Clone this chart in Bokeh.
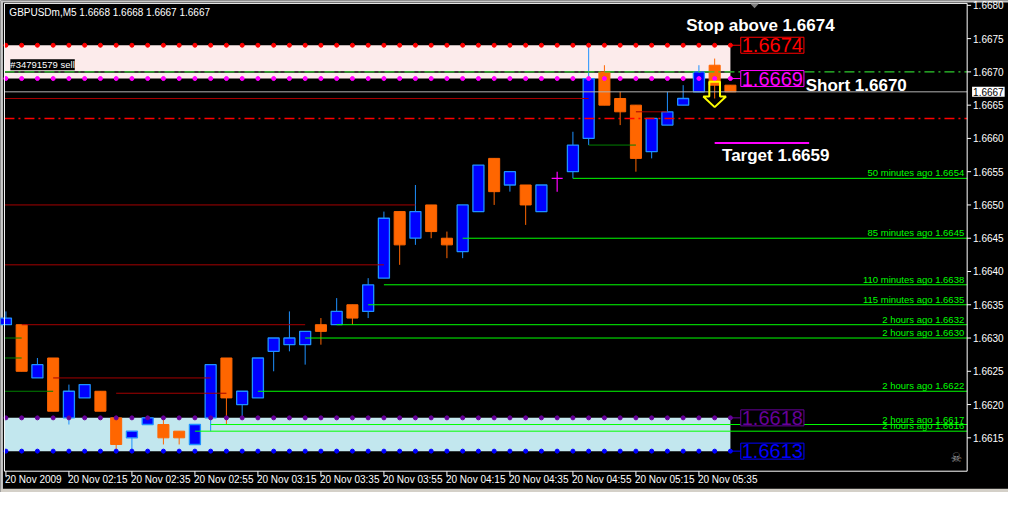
from bokeh.plotting import figure
from bokeh.models import Range1d, Label
from bokeh.core.properties import value
from bokeh.embed import file_html
from bokeh.resources import INLINE

# ---------------- data ----------------
chart_title = "GBPUSDm,M5  1.6668 1.6668 1.6667 1.6667"
bar_index = list(range(47))
opens = [1.6632, 1.6632, 1.6624, 1.6627, 1.6618, 1.6621, 1.6622, 1.6618, 1.6615, 1.6617,
         1.6617, 1.6616, 1.6614, 1.6618, 1.6627, 1.6620, 1.6621, 1.6628, 1.6629, 1.6629,
         1.6632, 1.6632, 1.6635, 1.6634, 1.6639, 1.6649, 1.6645, 1.6650, 1.6645, 1.6643,
         1.6649, 1.6657, 1.6653, 1.6653, 1.6649, 1.6654, 1.6655, 1.6660, 1.6670, 1.6666,
         1.6665, 1.6658, 1.6662, 1.6665, 1.6667, 1.6671, 1.6668]
highs = [1.6634, 1.6632, 1.6627, 1.6627, 1.6623, 1.6623, 1.6622, 1.6618, 1.6616, 1.6618,
         1.6618, 1.6616, 1.6617, 1.6626, 1.6627, 1.6622, 1.6627, 1.6630, 1.6634, 1.6631,
         1.6633, 1.6636, 1.6635, 1.6639, 1.6649, 1.6649, 1.6653, 1.6650, 1.6646, 1.6650,
         1.6656, 1.6657, 1.6655, 1.6653, 1.6653, 1.6655, 1.6661, 1.6674, 1.6671, 1.6667,
         1.6665, 1.6663, 1.6667, 1.6668, 1.6671, 1.6672, 1.6668]
lows = [1.6632, 1.6625, 1.6624, 1.6619, 1.6617, 1.6621, 1.6619, 1.6613, 1.6613, 1.6617,
        1.6614, 1.6614, 1.6614, 1.6616, 1.6617, 1.6618, 1.6621, 1.6625, 1.6628, 1.6626,
        1.6629, 1.6632, 1.6632, 1.6633, 1.6639, 1.6641, 1.6644, 1.6645, 1.6642, 1.6642,
        1.6649, 1.6650, 1.6652, 1.6647, 1.6649, 1.6652, 1.6654, 1.6659, 1.6665, 1.6662,
        1.6655, 1.6657, 1.6662, 1.6665, 1.6667, 1.6666, 1.6667]
closes = [1.6633, 1.6625, 1.6626, 1.6619, 1.6622, 1.6623, 1.6619, 1.6614, 1.6616, 1.6618,
          1.6615, 1.6615, 1.6617, 1.6626, 1.6621, 1.6622, 1.6627, 1.6630, 1.6630, 1.6631,
          1.6631, 1.6634, 1.6633, 1.6638, 1.6648, 1.6644, 1.6649, 1.6646, 1.6644, 1.6650,
          1.6656, 1.6652, 1.6655, 1.6650, 1.6653, 1.6654, 1.6659, 1.6669, 1.6665, 1.6664,
          1.6657, 1.6663, 1.6664, 1.6666, 1.6670, 1.6668, 1.6667]

time_tick_bars = [0, 4, 8, 12, 16, 20, 24, 28, 32, 36, 40, 44]
time_tick_labels = ["20 Nov 2009", "20 Nov 02:15", "20 Nov 02:35", "20 Nov 02:55",
                    "20 Nov 03:15", "20 Nov 03:35", "20 Nov 03:55", "20 Nov 04:15",
                    "20 Nov 04:35", "20 Nov 04:55", "20 Nov 05:15", "20 Nov 05:35"]
price_ticks = [1.6615, 1.6620, 1.6625, 1.6630, 1.6635, 1.6640, 1.6645, 1.6650,
               1.6655, 1.6660, 1.6665, 1.6670, 1.6675, 1.6680]
price_tick_labels = ["1.6615", "1.6620", "1.6625", "1.6630", "1.6635", "1.6640", "1.6645",
                     "1.6650", "1.6655", "1.6660", "1.6665", "1.6670", "1.6675", "1.6680"]

# "x minutes ago" levels (bright green)
ago_start_bars = [36, 29, 24, 23, 21, 19, 16, 13, 12]
ago_prices = [1.6654, 1.6645, 1.6638, 1.6635, 1.6632, 1.6630, 1.6622, 1.6617, 1.6616]
ago_labels = ["50 minutes ago 1.6654", "85 minutes ago 1.6645", "110 minutes ago 1.6638",
              "115 minutes ago 1.6635", "2 hours ago 1.6632", "2 hours ago 1.6630",
              "2 hours ago 1.6622", "2 hours ago 1.6617", "2 hours ago 1.6616"]

# dark red level segments
maroon_prices = [1.6666, 1.6664, 1.6650, 1.6641, 1.6632, 1.6624, 1.66217]
maroon_start = [-1, 40, -1, -1, 1, 3, 7]
maroon_end = [37, 42, 26, 24, 19, 13, 14]

# dark green level segments
dkgreen_prices = [1.6630, 1.6627, 1.6622, 1.6659]
dkgreen_start = [-1, -1, -1, 37]
dkgreen_end = [1, 1, 3, 40]

# zones (top, bottom)
sell_zone = (1.6674, 1.6669)
buy_zone = (1.6618, 1.6613)
zone_last_bar = 46

bid_price = 1.6667
short_price = 1.6670
red_level = 1.6663
target_price = 1.66593
target_bars = (45, 51)
arrow_bar = 45
arrow_tip = 1.66647
order_label = "#34791579 sell"

# ---------------- layout helpers (terminal pixel grid -> data) ----------------
BAR_PX = 16.0
PIP_PX = 6.87
pip = 0.0001


def bx(px):          # horizontal pixel of the terminal window -> bar units
    return (px - 5.5) / BAR_PX


def py(px):          # vertical pixel of the terminal window -> price
    return 1.6680 - (px - 5.0) / PIP_PX * pip


FL, FR, FT, FB = bx(4), bx(982), py(3), py(486)   # chart frame

p = figure(width=1008, height=492, output_backend="svg", toolbar_location=None,
           x_range=Range1d(bx(0), bx(1024)), y_range=Range1d(py(508), py(0)),
           background_fill_color="black", border_fill_color="black",
           outline_line_color=None, min_border=0)
p.grid.visible = False
p.axis.visible = False

FONT = "Liberation Sans"

# window chrome
p.quad(left=[bx(0)], right=[bx(1024)], top=[py(0)], bottom=[py(2)], fill_color="#C8C8C8", line_color=None)
p.quad(left=[bx(0)], right=[bx(2.5)], top=[py(0)], bottom=[py(508)], fill_color="#C8C8C8", line_color=None)
p.quad(left=[bx(0)], right=[bx(1024)], top=[py(504)], bottom=[py(508)], fill_color="#D4D0C8", line_color=None)

# zones
p.quad(left=[FL], right=[zone_last_bar], top=[sell_zone[0]], bottom=[sell_zone[1]],
       fill_color="#FCEBEB", line_color=None)
p.quad(left=[FL], right=[zone_last_bar], top=[buy_zone[0]], bottom=[buy_zone[1]],
       fill_color="#C2E7EE", line_color=None)

# black base under the order line inside the sell zone
p.segment(x0=[FL], x1=[zone_last_bar], y0=[short_price], y1=[short_price], line_color="black", line_width=1.5)

# candles
bull = [i for i in bar_index if closes[i] > opens[i]]
bear = [i for i in bar_index if closes[i] < opens[i]]
doji = [i for i in bar_index if closes[i] == opens[i]]
HW = 0.35
p.segment(x0=bull, x1=bull, y0=[lows[i] for i in bull], y1=[highs[i] for i in bull],
          line_color="#1E90FF", line_width=1)
p.segment(x0=bear, x1=bear, y0=[lows[i] for i in bear], y1=[highs[i] for i in bear],
          line_color="#FF6600", line_width=1)
p.segment(x0=doji, x1=doji, y0=[lows[i] for i in doji], y1=[highs[i] for i in doji],
          line_color="#FF00FF", line_width=1.2)
p.segment(x0=[i - HW for i in doji], x1=[i + HW for i in doji], y0=[opens[i] for i in doji],
          y1=[opens[i] for i in doji], line_color="#FF00FF", line_width=1.2)
p.quad(left=[i - HW for i in bull], right=[i + HW for i in bull],
       bottom=[opens[i] for i in bull], top=[closes[i] for i in bull],
       fill_color="#0000FF", line_color="#1E90FF", line_width=1.3)
p.quad(left=[i - HW for i in bear], right=[i + HW for i in bear],
       bottom=[closes[i] for i in bear], top=[opens[i] for i in bear],
       fill_color="#FF6600", line_color="#FF6600", line_width=1)

# zone edge dots
dots = list(range(zone_last_bar + 1))
p.scatter(x=dots, y=[sell_zone[0]] * len(dots), marker="circle", size=4, color="#FF0000")
p.scatter(x=dots, y=[sell_zone[1]] * len(dots), marker="circle", size=4, color="#FF00FF")
p.scatter(x=dots, y=[buy_zone[0]] * len(dots), marker="circle", size=4, color="#660099")
p.scatter(x=dots, y=[buy_zone[1]] * len(dots), marker="circle", size=4, color="#0000FF")

# level segments
p.segment(x0=[max(s, FL) for s in maroon_start], x1=maroon_end, y0=maroon_prices, y1=maroon_prices,
          line_color="#A50000", line_width=1)
p.segment(x0=[max(s, FL) for s in dkgreen_start], x1=dkgreen_end, y0=dkgreen_prices, y1=dkgreen_prices,
          line_color="#008000", line_width=1)
p.segment(x0=ago_start_bars, x1=[FR] * len(ago_prices), y0=ago_prices, y1=ago_prices,
          line_color="#00FF00", line_width=1)
p.text(x=[bx(979)] * len(ago_prices), y=ago_prices, text=ago_labels,
       text_color="#00FF00", text_font=value(FONT), text_font_size="9.5px",
       text_align="right", text_baseline="bottom")

# target line
p.segment(x0=[target_bars[0]], x1=[target_bars[1]], y0=[target_price], y1=[target_price],
          line_color="#FF00FF", line_width=2)

# connectors to the price boxes
box_bar = bx(752)
zone_levels = [sell_zone[0], sell_zone[1], buy_zone[0], buy_zone[1]]
zone_colors = ["#FF0000", "#FF00FF", "#660099", "#0000FF"]
p.segment(x0=[zone_last_bar] * 4, x1=[box_bar] * 4, y0=zone_levels, y1=zone_levels,
          line_color=zone_colors, line_width=1)

# frame-wide lines
p.segment(x0=[FL], x1=[FR], y0=[bid_price], y1=[bid_price], line_color="#B4B4B4", line_width=1)
p.segment(x0=[FL], x1=[FR], y0=[red_level], y1=[red_level], line_color="#FF0000", line_width=1.6,
          line_dash="10 4 2 4")
p.segment(x0=[FL], x1=[FR], y0=[short_price], y1=[short_price], line_color="#2ECC2E", line_width=1.4,
          line_dash="10 4 2 4")

# yellow arrow (outline)
ax = [arrow_bar - 0.34, arrow_bar + 0.34, arrow_bar + 0.34, arrow_bar + 0.72, arrow_bar,
      arrow_bar - 0.72, arrow_bar - 0.34, arrow_bar - 0.34]
ay = [arrow_tip + 3.8 * pip, arrow_tip + 3.8 * pip, arrow_tip + 1.6 * pip, arrow_tip + 1.6 * pip,
      arrow_tip, arrow_tip + 1.6 * pip, arrow_tip + 1.6 * pip, arrow_tip + 3.8 * pip]
p.patch(x=ax, y=ay, fill_color=None, line_color="#FFFF00", line_width=2)

# chart frame and price axis
p.segment(x0=[FL, FL, FR, FL], x1=[FL, FR, FR, FR], y0=[FT, FT, FT, FB], y1=[FB, FT, FB, FB],
          line_color="white", line_width=1)
p.segment(x0=[FR] * len(price_ticks), x1=[bx(986)] * len(price_ticks), y0=price_ticks, y1=price_ticks,
          line_color="white", line_width=1)
p.text(x=[bx(988)] * len(price_ticks), y=price_ticks, text=price_tick_labels, text_color="white",
       text_font=value(FONT), text_font_size="10px", text_baseline="middle", text_align="left")

# time axis
p.segment(x0=time_tick_bars, x1=time_tick_bars, y0=[FB] * len(time_tick_bars),
          y1=[py(491)] * len(time_tick_bars), line_color="white", line_width=1)
p.text(x=[b - 0.06 for b in time_tick_bars], y=[py(489)] * len(time_tick_bars), text=time_tick_labels,
       text_color="white", text_font=value(FONT), text_font_size="10px",
       text_baseline="top", text_align="left")

# chart shift marker
p.patch(x=[bx(761.5), bx(770.5), bx(766)], y=[FT, FT, py(8)], fill_color="#808080", line_color=None)

# texts
p.text(x=[bx(9)], y=[py(12)], text=[chart_title], text_color="white",
       text_font=value(FONT), text_font_size="10px", text_baseline="middle")
p.text(x=[bx(772)], y=[sell_zone[0] + 2.9 * pip], text=["Stop above 1.6674"], text_color="white",
       text_font=value(FONT), text_font_style="bold", text_font_size="17px",
       text_align="center", text_baseline="middle")
p.text(x=[bx(818)], y=[short_price - 2.0 * pip], text=["Short 1.6670"], text_color="white",
       text_font=value(FONT), text_font_style="bold", text_font_size="17px",
       text_align="left", text_baseline="middle")
p.text(x=[bx(733)], y=[target_price - 1.8 * pip], text=["Target 1.6659"], text_color="white",
       text_font=value(FONT), text_font_style="bold", text_font_size="17px",
       text_align="left", text_baseline="middle")
p.text(x=[bx(971)], y=[py(472)], text=["\u2620"], text_color="#9A9A9A",
       text_font=value("DejaVu Sans"), text_font_size="13px",
       text_align="center", text_baseline="middle")

p.add_layout(Label(x=bx(10), y=short_price + 0.25 * pip, text=order_label, text_color="white",
                   text_font=FONT, text_font_size="9.5px", text_baseline="bottom",
                   background_fill_color="black"))

for lvl, col in zip(zone_levels, zone_colors):
    p.add_layout(Label(x=box_bar, y=lvl, text=f"{lvl:.4f}", text_color=col,
                       text_font=FONT, text_font_size="20px", text_baseline="middle",
                       text_align="left", border_line_color=col, border_line_width=1,
                       background_fill_color="black", padding=1))

# current price box on the price axis
p.add_layout(Label(x=bx(987), y=bid_price, text=f"{bid_price:.4f}", text_color="black",
                   text_font=FONT, text_font_size="10px", text_baseline="middle",
                   text_align="left", background_fill_color="white", padding=1))

open("out.html", "w").write(file_html(p, INLINE))
